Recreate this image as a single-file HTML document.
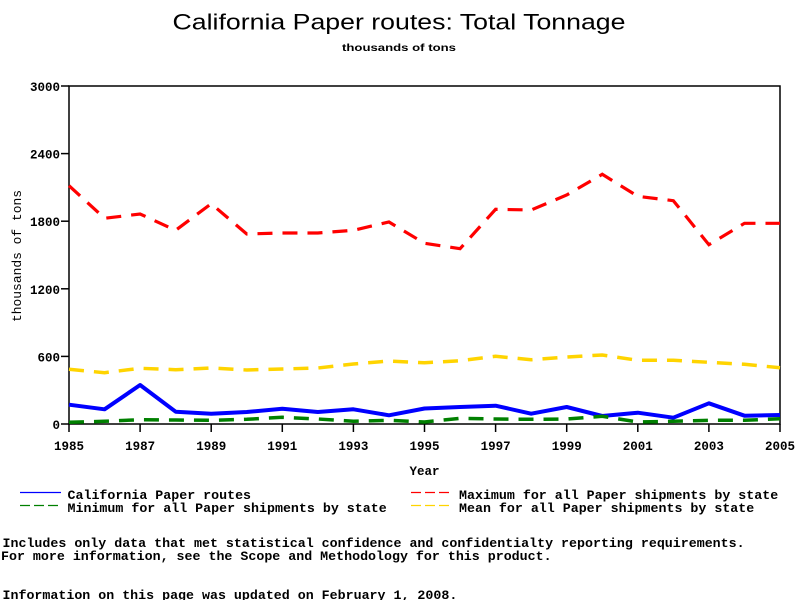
<!DOCTYPE html>
<html><head><meta charset="utf-8"><style>
html,body{margin:0;padding:0;background:#fff;}
svg{display:block;}
.mono{font-family:"Liberation Mono",monospace;}
</style></head><body>
<svg width="800" height="600" viewBox="0 0 800 600" xmlns="http://www.w3.org/2000/svg">
<rect width="800" height="600" fill="#fff"/>
<text x="399" y="29.5" text-anchor="middle" font-family="Liberation Sans, sans-serif" font-size="22.5" textLength="453" lengthAdjust="spacingAndGlyphs">California Paper routes: Total Tonnage</text>
<text x="399" y="51" text-anchor="middle" font-family="Liberation Sans, sans-serif" font-weight="bold" font-size="10" textLength="114" lengthAdjust="spacingAndGlyphs">thousands of tons</text>

<!-- axes -->
<rect x="69" y="86" width="711" height="338" fill="none" stroke="#000" stroke-width="1.5"/>
<g stroke="#000" stroke-width="1.5">
<line x1="61" y1="86" x2="69" y2="86"/>
<line x1="61" y1="153.6" x2="69" y2="153.6"/>
<line x1="61" y1="221.2" x2="69" y2="221.2"/>
<line x1="61" y1="288.8" x2="69" y2="288.8"/>
<line x1="61" y1="356.4" x2="69" y2="356.4"/>
<line x1="61" y1="424" x2="69" y2="424"/>
<line x1="69" y1="424" x2="69" y2="432"/>
<line x1="140.1" y1="424" x2="140.1" y2="432"/>
<line x1="211.2" y1="424" x2="211.2" y2="432"/>
<line x1="282.3" y1="424" x2="282.3" y2="432"/>
<line x1="353.4" y1="424" x2="353.4" y2="432"/>
<line x1="424.5" y1="424" x2="424.5" y2="432"/>
<line x1="495.6" y1="424" x2="495.6" y2="432"/>
<line x1="566.7" y1="424" x2="566.7" y2="432"/>
<line x1="637.8" y1="424" x2="637.8" y2="432"/>
<line x1="708.9" y1="424" x2="708.9" y2="432"/>
<line x1="780" y1="424" x2="780" y2="432"/>
</g>
<g class="mono" font-family="Liberation Mono, monospace" font-weight="bold" font-size="12.5" text-anchor="end">
<text x="60" y="91">3000</text>
<text x="60" y="158.6">2400</text>
<text x="60" y="226.2">1800</text>
<text x="60" y="293.8">1200</text>
<text x="60" y="361.4">600</text>
<text x="60" y="429">0</text>
</g>
<g font-family="Liberation Mono, monospace" font-weight="bold" font-size="12.5" text-anchor="middle">
<text x="69" y="450">1985</text>
<text x="140.1" y="450">1987</text>
<text x="211.2" y="450">1989</text>
<text x="282.3" y="450">1991</text>
<text x="353.4" y="450">1993</text>
<text x="424.5" y="450">1995</text>
<text x="495.6" y="450">1997</text>
<text x="566.7" y="450">1999</text>
<text x="637.8" y="450">2001</text>
<text x="708.9" y="450">2003</text>
<text x="780" y="450">2005</text>
<text x="424.5" y="475">Year</text>
</g>
<text transform="translate(21,256) rotate(-90)" text-anchor="middle" font-family="Liberation Mono, monospace" font-size="12.5" textLength="132" lengthAdjust="spacingAndGlyphs">thousands of tons</text>

<!-- series -->
<polyline fill="none" stroke="#0000FF" stroke-width="4" stroke-linejoin="round" points="69,404.7 104.55,409.3 140.1,385 175.65,411.7 211.2,413.7 246.75,412 282.3,408.7 317.85,412 353.4,409.3 388.95,415.3 424.5,408.5 460.05,407 495.6,405.7 531.15,413.7 566.7,407 602.25,416 637.8,412.7 673.35,417.7 708.9,403.3 744.45,415.7 780,415"/>
<polyline fill="none" stroke="#008000" stroke-width="3.5" stroke-dasharray="15,10" points="69,422.3 104.55,421.3 140.1,419.7 175.65,420 211.2,420.3 246.75,419.3 282.3,417.3 317.85,419 353.4,421.3 388.95,420.3 424.5,422 460.05,418.3 495.6,419 531.15,419.3 566.7,419 602.25,416.3 637.8,422 673.35,421.3 708.9,420.3 744.45,420.3 780,418.7"/>
<polyline fill="none" stroke="#FF0000" stroke-width="3.2" stroke-dasharray="15,10" points="69,185.7 104.55,218.3 140.1,214 175.65,230.3 211.2,203.7 246.75,234 282.3,233 317.85,233 353.4,230.3 388.95,222 424.5,243.3 460.05,248.7 495.6,209.3 531.15,210 566.7,195 602.25,174.3 637.8,196.3 673.35,200.7 708.9,244.7 744.45,223.3 780,223.3"/>
<polyline fill="none" stroke="#FFD400" stroke-width="3.5" stroke-dasharray="15,10" points="69,369.3 104.55,372.7 140.1,368.3 175.65,369.7 211.2,368 246.75,370 282.3,369 317.85,368 353.4,364 388.95,361 424.5,362.8 460.05,360.7 495.6,356.3 531.15,359.7 566.7,357 602.25,355 637.8,360.3 673.35,360.3 708.9,362.3 744.45,364.3 780,367.7"/>

<!-- legend -->
<line x1="20" y1="492.5" x2="61" y2="492.5" stroke="#0000FF" stroke-width="1.3"/>
<line x1="20" y1="505.5" x2="61" y2="505.5" stroke="#008000" stroke-width="1.3" stroke-dasharray="10,4"/>
<line x1="411" y1="492.5" x2="452" y2="492.5" stroke="#FF0000" stroke-width="1.3" stroke-dasharray="10,4"/>
<line x1="411" y1="505.5" x2="452" y2="505.5" stroke="#FFD400" stroke-width="1.3" stroke-dasharray="10,4"/>
<g font-family="Liberation Mono, monospace" font-weight="bold" font-size="13.3">
<text x="67.5" y="499">California Paper routes</text>
<text x="67.5" y="512">Minimum for all Paper shipments by state</text>
<text x="459" y="499">Maximum for all Paper shipments by state</text>
<text x="459" y="512">Mean for all Paper shipments by state</text>
<text x="2.5" y="547">Includes only data that met statistical confidence and confidentialty reporting requirements.</text>
<text x="1" y="560">For more information, see the Scope and Methodology for this product.</text>
<text x="2.5" y="599">Information on this page was updated on February 1, 2008.</text>
</g>
</svg>
</body></html>
